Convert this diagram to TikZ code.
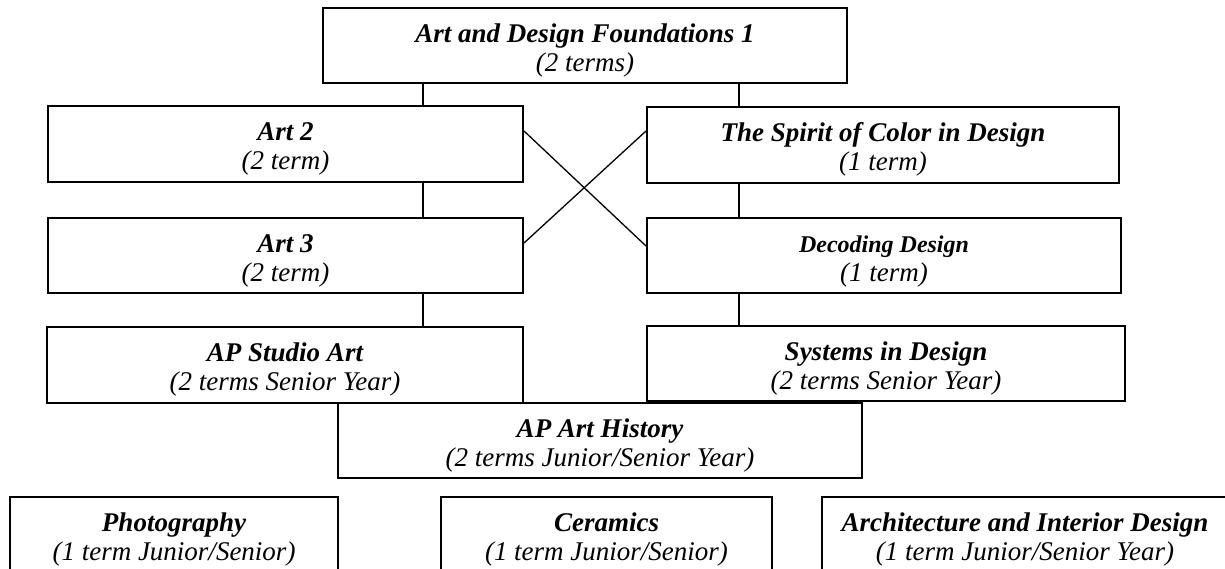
\documentclass[tikz,border=0pt]{standalone}
\usepackage{fontspec}
\setmainfont{Liberation Serif}
\begin{document}
\begin{tikzpicture}[x=1pt,y=-1pt,
  box/.style={draw=black, line width=2pt, fill=white, inner sep=0pt, align=center,
    font=\fontsize{27}{29}\selectfont\itshape},
  link/.style={draw=black, line width=1.3pt}]
\useasboundingbox (0,0) rectangle (1225,569);
\clip (0,0) rectangle (1225,569);
\newcommand{\ttl}[1]{\rule{0pt}{28pt}{\bfseries #1}}
\coordinate (cl) at (423,0);
\coordinate (cr) at (739,0);
\node[box, minimum width=524pt, minimum height=75pt] (found) at (585,45.5)
  {\ttl{Art and Design Foundations 1}\\(2 terms)};
\node[box, minimum width=475pt, minimum height=76pt] (art2) at (285.5,144)
  {\ttl{Art 2}\\(2 term)};
\node[box, minimum width=472pt, minimum height=76pt] (spirit) at (883,145)
  {\ttl{The Spirit of Color in Design}\\(1 term)};
\node[box, minimum width=475pt, minimum height=75pt] (art3) at (285.5,255.5)
  {\ttl{Art 3}\\(2 term)};
\node[box, minimum width=474pt, minimum height=75pt] (decoding) at (884,255.5)
  {\rule{0pt}{28pt}{\fontsize{24}{29}\selectfont\bfseries Decoding Design}\\(1 term)};
\node[box, minimum width=476pt, minimum height=76pt] (apstudio) at (285,365)
  {\ttl{AP Studio Art}\\(2 terms Senior Year)};
\node[box, minimum width=478pt, minimum height=75pt] (systems) at (886,363.5)
  {\ttl{Systems in Design}\\(2 terms Senior Year)};
\node[box, minimum width=524pt, minimum height=75pt] (aphist) at (600,440.5)
  {\ttl{AP Art History}\\(2 terms Junior/Senior Year)};
\node[box, minimum width=328pt, minimum height=76pt] (photo) at (174,535)
  {\ttl{Photography}\\(1 term Junior/Senior)};
\node[box, minimum width=331pt, minimum height=76pt] (ceramics) at (606.5,535)
  {\ttl{Ceramics}\\(1 term Junior/Senior)};
\node[box, minimum width=406pt, minimum height=76pt] (arch) at (1025,535)
  {\ttl{Architecture and Interior Design}\\(1 term Junior/Senior Year)};
\draw[link] (found.south -| cl) -- (art2.north -| cl);
\draw[link] (found.south -| cr) -- (spirit.north -| cr);
\draw[link] (art2.south -| cl) -- (art3.north -| cl);
\draw[link] (spirit.south -| cr) -- (decoding.north -| cr);
\draw[link] (art3.south -| cl) -- (apstudio.north -| cl);
\draw[link] (decoding.south -| cr) -- (systems.north -| cr);
\draw[link] ([yshift=13pt]art2.east) -- ([yshift=9.5pt]decoding.west);
\draw[link] ([yshift=12.5pt]art3.east) -- ([yshift=14pt]spirit.west);
\end{tikzpicture}
\end{document}
